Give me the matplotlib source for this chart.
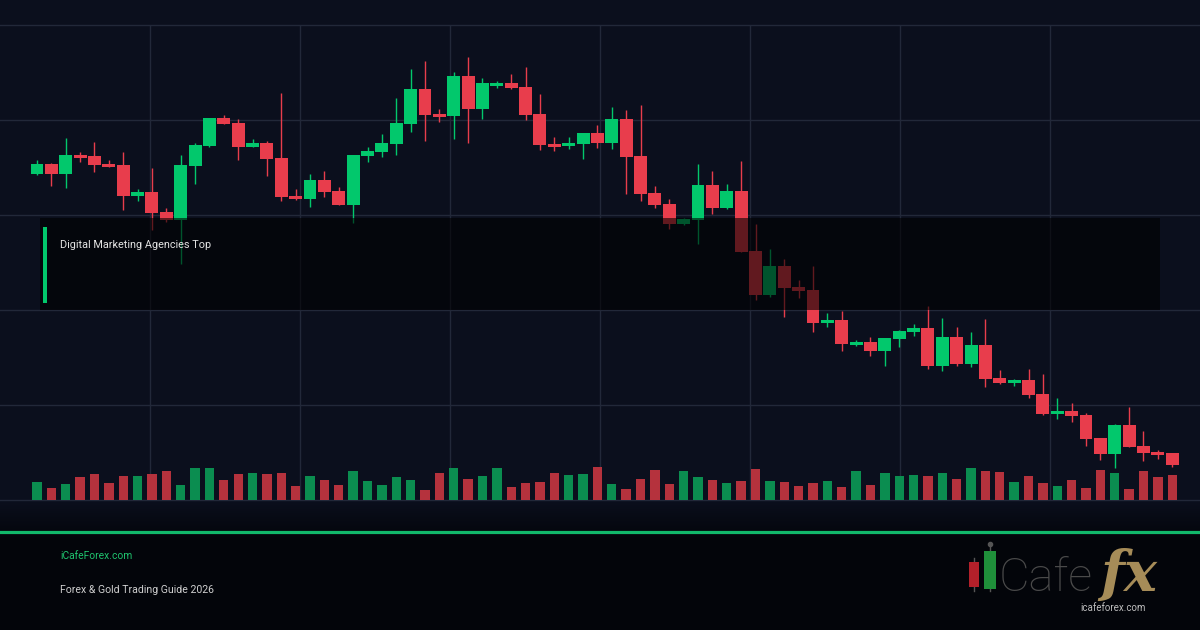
import matplotlib
matplotlib.use("Agg")
import matplotlib.pyplot as plt
import numpy as np
from matplotlib.patches import Rectangle
from matplotlib.lines import Line2D

# candle data (price units)
opens = [326, 336, 326, 345, 344, 336, 335, 304, 308, 288,
         280, 334, 354, 382, 377, 353, 357, 342, 304, 301,
         320, 309, 295, 344, 348, 356, 376, 411, 386, 384,
         424, 391, 414, 417, 413, 386, 356, 354, 356, 367,
         357, 381, 344, 307, 296, 276, 280, 315, 292, 309,
         249, 205, 234, 213, 210, 177, 180, 155, 158, 149,
         161, 168, 172, 134, 163, 136, 155, 122, 117, 120,
         106, 86, 89, 85, 62, 46, 75, 54, 48, 47]
closes = [336, 326, 345, 342, 335, 333, 304, 308, 287, 280,
          335, 355, 382, 376, 353, 357, 341, 303, 301, 320,
          308, 295, 345, 349, 357, 377, 411, 385, 383, 424,
          391, 417, 417, 412, 385, 355, 353, 357, 367, 357,
          381, 343, 306, 295, 276, 281, 315, 292, 309, 248,
          205, 234, 212, 209, 177, 180, 156, 158, 149, 162,
          169, 172, 134, 163, 136, 155, 121, 117, 120, 105,
          86, 89, 84, 61, 46, 75, 53, 47, 45, 35]
highs = [340, 337, 362, 348, 358, 340, 348, 311, 332, 292,
         345, 357, 382, 385, 381, 361, 359, 407, 311, 326,
         329, 313, 345, 353, 366, 402, 431, 439, 391, 428,
         443, 422, 419, 426, 433, 406, 363, 363, 367, 375,
         393, 390, 395, 314, 301, 282, 336, 329, 316, 339,
         276, 251, 241, 220, 234, 187, 189, 160, 163, 162,
         170, 176, 194, 182, 173, 168, 181, 130, 121, 131,
         126, 102, 97, 87, 62, 76, 93, 69, 50, 47]
lows = [325, 314, 312, 338, 328, 333, 290, 299, 270, 278,
        236, 316, 353, 376, 340, 353, 324, 299, 300, 293,
        303, 295, 277, 338, 343, 345, 368, 359, 378, 361,
        357, 381, 412, 411, 380, 350, 349, 351, 341, 352,
        351, 306, 299, 292, 271, 275, 256, 286, 291, 248,
        200, 203, 183, 202, 168, 173, 149, 154, 144, 134,
        153, 164, 131, 129, 134, 133, 113, 116, 114, 102,
        85, 81, 78, 54, 40, 32, 53, 39, 41, 33]
volumes = [18, 12, 16, 23, 26, 17, 24, 24, 26, 29,
           15, 32, 32, 20, 26, 27, 26, 27, 14, 24,
           20, 15, 29, 19, 15, 23, 20, 10, 27, 32,
           21, 24, 32, 13, 17, 18, 27, 25, 26, 33,
           16, 11, 21, 30, 16, 29, 23, 20, 17, 19,
           31, 19, 18, 14, 17, 19, 13, 29, 15, 27,
           24, 25, 24, 27, 21, 32, 29, 28, 18, 24,
           17, 14, 20, 12, 30, 27, 11, 29, 23, 25]

title = "Digital Marketing Agencies Top"
site = "iCafeForex.com"
subtitle = "Forex & Gold Trading Guide 2026"

W, H = 1200, 630
BG = "#0b0f1d"
GRID = "#222839"
UP, DOWN = "#02c86c", "#e83d4c"
VUP, VDOWN = "#0b8d50", "#b5323d"
ACCENT = "#12b96b"

fig = plt.figure(figsize=(12, 6.3), dpi=100, facecolor=BG)

# background with darker footer
bgax = fig.add_axes([0, 0, 1, 1], zorder=-10)
top = np.array([11, 15, 29]) / 255
bot = np.array([3, 5, 10]) / 255
rows = np.arange(H)
t = np.clip((rows - 500) / 40, 0, 1)[:, None]
grad = (top * (1 - t) + bot * t)[:, None, :]
bgax.imshow(grad, extent=[0, 1, 0, 1], aspect="auto", origin="upper")
bgax.axis("off")

n = len(opens)
x = np.arange(n)
x0, step = 37, 14.37
ax = fig.add_axes([0, 130 / H, 1, 475 / H])
ax.set_facecolor("none")
ax.set_xlim(-x0 / step, (W - x0) / step)
ax.set_ylim(0, 475)
for s in ax.spines.values():
    s.set_visible(False)
ax.set_xticks([])
ax.set_yticks([])

for yv in [0, 95, 190, 285, 380, 475]:
    ax.axhline(yv, color=GRID, lw=1, clip_on=False, zorder=0)
for px in range(150, 1051, 150):
    ax.axvline((px - x0) / step, color=GRID, lw=1, zorder=0)

o = np.array(opens); c = np.array(closes)
colors = [UP if cc >= oo else DOWN for oo, cc in zip(o, c)]
ax.vlines(x, lows, highs, colors=colors, lw=1.0, zorder=2)
ax.bar(x, np.abs(c - o), bottom=np.minimum(o, c), width=0.9,
       color=colors, zorder=3, linewidth=0)

vax = ax.twinx()
vax.set_ylim(0, 475)
vcolors = [VUP if cc >= oo else VDOWN for oo, cc in zip(o, c)]
vax.bar(x, volumes, width=0.65, color=vcolors, linewidth=0)
vax.axis("off")

# dark title band over the chart
fig.add_artist(Rectangle((40 / W, 1 - 310 / H), 1120 / W, 92 / H,
                         transform=fig.transFigure, color="black",
                         alpha=0.58, lw=0, zorder=5))
fig.add_artist(Rectangle((43 / W, 1 - 303 / H), 4 / W, 76 / H,
                         transform=fig.transFigure, color=UP, lw=0, zorder=6))
fig.text(60 / W, 1 - 245 / H, title, color="#e4e4e4", fontsize=7.8,
         family="Roboto", va="center", zorder=7)

# footer
fig.add_artist(Line2D([0, 1], [1 - 532 / H] * 2, color=ACCENT, lw=2.3,
                      transform=fig.transFigure, zorder=6))
fig.text(60 / W, 1 - 556 / H, site, color="#1fc46e", fontsize=7.4,
         family="Roboto", va="center")
fig.text(60 / W, 1 - 590 / H, subtitle, color="#cfcfcf", fontsize=7.6,
         family="Roboto", va="center")

# logo
fig.add_artist(Line2D([974 / W] * 2, [1 - 558 / H, 1 - 591 / H], color="#555555",
                      lw=1, transform=fig.transFigure, zorder=6))
fig.add_artist(Rectangle((969 / W, 1 - 587 / H), 10 / W, 25 / H,
                         transform=fig.transFigure, color="#b3202a", lw=0, zorder=7))
fig.add_artist(Line2D([990 / W] * 2, [1 - 544 / H, 1 - 591 / H], color="#555555",
                      lw=1, transform=fig.transFigure, zorder=6))
fig.add_artist(Line2D([990 / W], [1 - 544 / H], marker="o", ms=3, color="#555555",
                      transform=fig.transFigure, zorder=6))
fig.add_artist(Rectangle((984 / W, 1 - 589 / H), 12 / W, 38 / H,
                         transform=fig.transFigure, color="#1f8f3a", lw=0, zorder=7))
fig.text(999 / W, 1 - 591 / H, "Cafe", color="#4a4a4a", fontsize=34,
         family="Roboto", fontweight="light", va="baseline")
fig.text(1100 / W, 1 - 591 / H, "fx", color="#a68c58", fontsize=40,
         family="DejaVu Serif", style="italic", fontweight="bold", va="baseline")
fig.text(1113 / W, 1 - 608 / H, "icafeforex.com", color="#bdbdbd", fontsize=7,
         family="Roboto", ha="center", va="center")

fig.savefig("out.png", dpi=100, facecolor=BG)
